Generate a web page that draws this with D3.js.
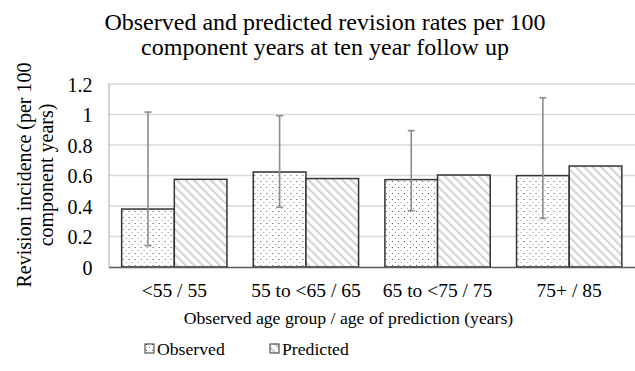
<!DOCTYPE html>
<html>
<head>
<meta charset="utf-8">
<script src="https://cdn.jsdelivr.net/npm/d3@7"></script>
<style>
  body { margin: 0; background: #fff; }
  svg { display: block; }
</style>
</head>
<body>
<svg id="chart" width="635" height="371"></svg>
<script>
// Revision rates per 100 component years, by age group
const categories = ["<55 / 55", "55 to <65 / 65", "65 to <75 / 75", "75+ / 85"];
const observed = [0.38, 0.623, 0.573, 0.599];
const observedLow = [0.14, 0.393, 0.369, 0.319];
const observedHigh = [1.016, 0.992, 0.894, 1.11];
const predicted = [0.575, 0.58, 0.603, 0.662];
const yTicks = [0, 0.2, 0.4, 0.6, 0.8, 1, 1.2];
const seriesNames = ["Observed", "Predicted"];

const FONT = "Liberation Serif";
const svg = d3.select("#chart");
const W = 635, H = 371;
const margin = { left: 108.5, right: 0, top: 84, bottom: 104 };
const plotW = W - margin.left - margin.right;
const plotH = H - margin.top - margin.bottom;

// Fill patterns: dotted for observed, diagonal hatch for predicted
const defs = svg.append("defs");
const dots = defs.append("pattern").attr("id", "dots")
  .attr("patternUnits", "userSpaceOnUse").attr("width", 6).attr("height", 6);
dots.append("rect").attr("width", 6).attr("height", 6).attr("fill", "#fff");
dots.append("rect").attr("x", 1).attr("y", 1).attr("width", 1).attr("height", 1).attr("fill", "#555");
dots.append("rect").attr("x", 4).attr("y", 4).attr("width", 1).attr("height", 1).attr("fill", "#999");

const hatch = defs.append("pattern").attr("id", "hatch")
  .attr("patternUnits", "userSpaceOnUse").attr("width", 6).attr("height", 6)
  .attr("patternTransform", "rotate(-45)");
hatch.append("rect").attr("width", 6).attr("height", 6).attr("fill", "#fff");
hatch.append("rect").attr("x", 0).attr("y", 0).attr("width", 2.2).attr("height", 6).attr("fill", "#d4d4d4");

const g = svg.append("g").attr("transform", `translate(${margin.left},${margin.top})`);

const x0 = d3.scaleBand().domain(categories).range([0, plotW]).paddingInner(0.2).paddingOuter(0.1);
const x1 = d3.scaleBand().domain(seriesNames).range([0, x0.bandwidth()]);
const y = d3.scaleLinear().domain([0, 1.2]).range([plotH, 0]);

// Gridlines
g.append("g").selectAll("line").data(yTicks.filter(d => d > 0)).join("line")
  .attr("x1", 0).attr("x2", plotW)
  .attr("y1", d => y(d)).attr("y2", d => y(d))
  .attr("stroke", "#d9d9d9").attr("stroke-width", 1.3);

// Y axis line
g.append("line").attr("x1", 0.5).attr("x2", 0.5).attr("y1", y(1.2)).attr("y2", y(0))
  .attr("stroke", "#a6a6a6").attr("stroke-width", 1);

// Y tick labels
const yAxis = d3.axisLeft(y).tickValues(yTicks).tickSize(0).tickPadding(16).tickFormat(d => String(d));
const yg = g.append("g").call(yAxis).attr("font-family", FONT).attr("font-size", 20);
yg.select(".domain").remove();
yg.selectAll("text").attr("fill", "#000").attr("dy", "0.35em");

// Bars
const rows = categories.map((c, i) => ({ c, i }));
const groups = g.selectAll(".cat").data(rows).join("g")
  .attr("transform", d => `translate(${x0(d.c)},0)`);

groups.append("rect")
  .attr("x", x1("Observed")).attr("width", x1.bandwidth())
  .attr("y", d => y(observed[d.i])).attr("height", d => y(0) - y(observed[d.i]))
  .attr("fill", "url(#dots)").attr("stroke", "#333").attr("stroke-width", 1.5);

groups.append("rect")
  .attr("x", x1("Predicted")).attr("width", x1.bandwidth())
  .attr("y", d => y(predicted[d.i])).attr("height", d => y(0) - y(predicted[d.i]))
  .attr("fill", "url(#hatch)").attr("stroke", "#333").attr("stroke-width", 1.5);

// Error bars on observed values
const cx = x1("Observed") + x1.bandwidth() / 2;
const errStyle = sel => sel.attr("stroke", "#8c8c8c").attr("stroke-width", 1.6);
groups.append("line")
  .attr("x1", cx).attr("x2", cx)
  .attr("y1", d => y(observedLow[d.i])).attr("y2", d => y(observedHigh[d.i]))
  .call(errStyle);
groups.append("line")
  .attr("x1", cx - 3.5).attr("x2", cx + 3.5)
  .attr("y1", d => y(observedHigh[d.i])).attr("y2", d => y(observedHigh[d.i]))
  .call(errStyle);
groups.append("line")
  .attr("x1", cx - 3.5).attr("x2", cx + 3.5)
  .attr("y1", d => y(observedLow[d.i])).attr("y2", d => y(observedLow[d.i]))
  .call(errStyle);

// X axis baseline and category labels
const xAxis = d3.axisBottom(x0).tickSize(0).tickPadding(16);
const xg = g.append("g").attr("transform", `translate(0,${plotH})`).call(xAxis)
  .attr("font-family", FONT).attr("font-size", 19.5);
xg.select(".domain").attr("stroke", "#595959").attr("stroke-width", 1.3);
xg.selectAll("text").attr("fill", "#000");

// Title
const title = svg.append("text").attr("text-anchor", "middle")
  .attr("font-family", FONT).attr("font-size", 24).attr("fill", "#000");
title.append("tspan").attr("x", 325).attr("y", 30).text("Observed and predicted revision rates per 100");
title.append("tspan").attr("x", 325).attr("y", 55).text("component years at ten year follow up");

// Axis titles
svg.append("text").attr("x", 348.5).attr("y", 324)
  .attr("text-anchor", "middle").attr("font-family", FONT).attr("font-size", 17.7).attr("fill", "#000")
  .text("Observed age group / age of prediction (years)");

const yt = svg.append("text").attr("transform", "translate(0,175) rotate(-90)")
  .attr("text-anchor", "middle").attr("font-family", FONT).attr("font-size", 20).attr("fill", "#000");
yt.append("tspan").attr("x", 0).attr("y", 31).text("Revision incidence (per 100");
yt.append("tspan").attr("x", 0).attr("y", 53).text("component years)");

// Legend
const legend = svg.append("g").attr("transform", "translate(0,349)");
const legendItems = [
  { name: seriesNames[0], fill: "url(#dots)", x: 145 },
  { name: seriesNames[1], fill: "url(#hatch)", x: 270 }
];
const li = legend.selectAll("g").data(legendItems).join("g")
  .attr("transform", d => `translate(${d.x},0)`);
li.append("rect").attr("x", 0).attr("y", -5).attr("width", 9).attr("height", 9)
  .attr("fill", d => d.fill).attr("stroke", "#333").attr("stroke-width", 1);
li.append("text").attr("x", 12).attr("y", 0).attr("dy", "0.35em")
  .attr("font-family", FONT).attr("font-size", 17.7).attr("fill", "#000").text(d => d.name);
</script>
</body>
</html>
